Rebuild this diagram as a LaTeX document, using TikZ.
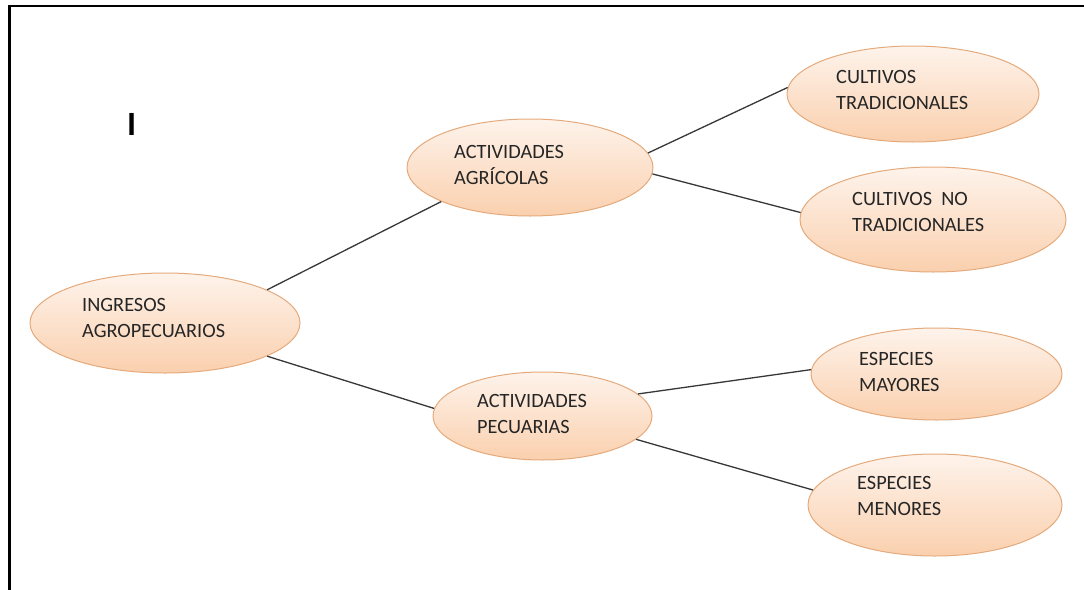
\documentclass[tikz,border=0pt]{standalone}
\usepackage{fontspec}
\setmainfont{Carlito}
\usetikzlibrary{shapes.geometric}
\definecolor{elltop}{RGB}{254,243,235}
\definecolor{ellbot}{RGB}{250,208,174}
\definecolor{elldraw}{RGB}{228,170,124}
\definecolor{linegray}{RGB}{55,55,55}
\begin{document}
\begin{tikzpicture}[x=1pt,y=-1pt,
  ell/.style={ellipse, draw=elldraw, line width=1pt, top color=elltop, bottom color=ellbot, inner sep=0pt},
  lbl/.style={font=\fontsize{20.3}{26}\selectfont, align=left, inner sep=0pt, anchor=base west, text=black!85},
  conn/.style={draw=linegray, line width=1.3pt},
  frame/.style={draw=black, line width=2.8pt}]
\useasboundingbox (0,0) rectangle (1084,589);
\draw[frame] (9.5,590) -- (9.5,6) -- (1085,6);
% ellipses
\node[ell, minimum width=270pt, minimum height=100pt] (ing) at (165,323) {};
\node[ell, minimum width=246pt, minimum height=97pt] (agr) at (530,167.5) {};
\node[ell, minimum width=219pt, minimum height=88pt] (pec) at (542.5,416) {};
\node[ell, minimum width=252pt, minimum height=96pt] (ct) at (913,94) {};
\node[ell, minimum width=266pt, minimum height=105pt] (cnt) at (933,219.5) {};
\node[ell, minimum width=251pt, minimum height=92pt] (may) at (936.5,374) {};
\node[ell, minimum width=254pt, minimum height=102pt] (men) at (935,505) {};
% labels (anchor = baseline of the last line)
\node[lbl] (ingT) at (82,337) {INGRESOS\\AGROPECUARIOS};
\node[lbl] (agrT) at (454,184) {ACTIVIDADES\\AGRÍCOLAS};
\node[lbl] (pecT) at (477,433) {ACTIVIDADES\\PECUARIAS};
\node[lbl] (ctT) at (836,109) {CULTIVOS\\TRADICIONALES};
\node[lbl] (cntT) at (852,231) {CULTIVOS\ \ NO\\TRADICIONALES};
\node[lbl] (mayT) at (859,391) {ESPECIES\\MAYORES};
\node[lbl] (menT) at (857,515) {ESPECIES\\MENORES};
\node[font=\fontsize{34}{40}\selectfont\bfseries, inner sep=0pt, anchor=base west] (cursor) at (127,135) {I};
% connectors
\draw[conn] (ing.18) -- (agr.201);
\draw[conn] (ing.-18) -- (pec.176);
\draw[conn] (agr.7.5) -- (ct.177.5);
\draw[conn] (agr.-3.6) -- (cnt.177.2);
\draw[conn] (pec.13.5) -- (may.178.2);
\draw[conn] (pec.-14.3) -- (men.173.1);
\end{tikzpicture}
\end{document}
